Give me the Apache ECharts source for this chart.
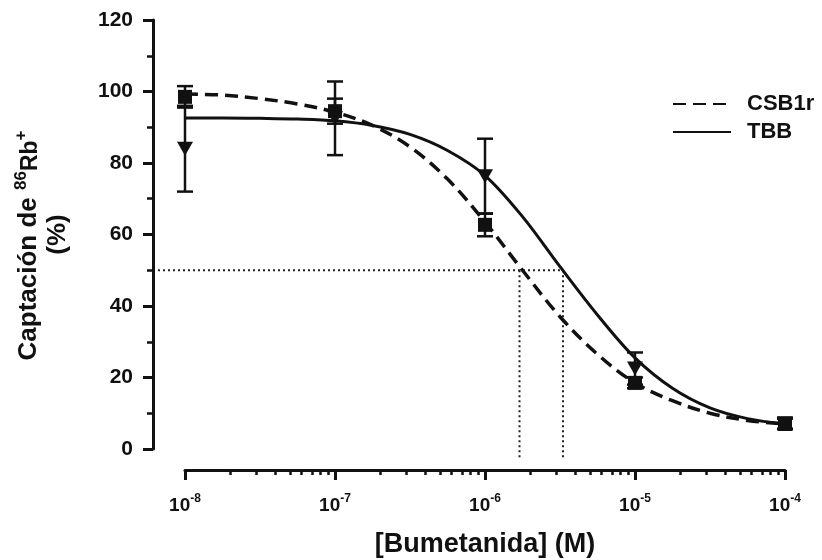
<!DOCTYPE html>
<html>
<head>
<meta charset="utf-8">
<script src="https://cdn.jsdelivr.net/npm/echarts@6/dist/echarts.min.js"></script>
<style>
  html, body { margin: 0; padding: 0; background: #ffffff; }
  #chart { width: 822px; height: 560px; }
</style>
</head>
<body>
<div id="chart"></div>
<script>
// Bumetanide concentrations, as log10 of molar concentration
const doseExp = [-8, -7, -6, -5, -4];

// 86Rb+ uptake (% of control), mean and error
const csbMean = [98.5, 94.5, 62.7, 18.5, 7.0];
const csbErr  = [3.0, 3.5, 3.2, 1.5, 1.5];
const tbbMean = [84.0, 92.5, 76.3, 22.5, 7.2];
const tbbErr  = [12.0, 10.3, 10.5, 4.5, 1.5];

// Fitted dose-response curves, sampled every quarter decade
const curveExp = [-8, -7.75, -7.5, -7.25, -7, -6.75, -6.5, -6.25, -6, -5.75, -5.5, -5.25, -5, -4.75, -4.5, -4.25, -4];
const csbFit = [99.3, 99.0, 98.0, 96.5, 94.2, 90.5, 84.5, 75.5, 63.5, 50.0, 37.0, 26.5, 18.5, 13.5, 10.0, 8.0, 7.0];
const tbbFit = [92.6, 92.6, 92.5, 92.3, 91.8, 90.5, 88.0, 83.5, 76.5, 65.0, 51.0, 37.5, 25.5, 17.0, 11.5, 8.5, 7.0];

// IC50 guide lines (log10 M) at 50 % uptake
const csbLogIC50 = -5.77;
const tbbLogIC50 = -5.48;
const halfLevel = 50;
const guideFloor = -3;

// Axis ticks
const xMajorExp = [-8, -7, -6, -5, -4];
const yTickStep = 20;

const INK = '#111111';
const FONT = '"Liberation Sans", Arial, Helvetica, sans-serif';

// Minor ticks at 2..9 x each decade
const xMinorExp = [];
for (let d = -8; d < -4; d++) {
  for (let k = 2; k <= 9; k++) xMinorExp.push(d + Math.log10(k));
}

const pairs = (xs, ys) => xs.map((x, i) => [x, ys[i]]);
const errData = (ys, es) => doseExp.map((x, i) => [x, ys[i], es[i]]);

function renderErrorBar(params, api) {
  const x = api.value(0), y = api.value(1), e = api.value(2);
  const top = api.coord([x, y + e]);
  const bot = api.coord([x, y - e]);
  const cap = 8;
  const style = { stroke: INK, lineWidth: 2.5 };
  return {
    type: 'group',
    children: [
      { type: 'line', shape: { x1: top[0], y1: top[1], x2: bot[0], y2: bot[1] }, style },
      { type: 'line', shape: { x1: top[0] - cap, y1: top[1], x2: top[0] + cap, y2: top[1] }, style },
      { type: 'line', shape: { x1: bot[0] - cap, y1: bot[1], x2: bot[0] + cap, y2: bot[1] }, style }
    ]
  };
}

const Y_AXIS_OFFSET = 32;
const X_AXIS_OFFSET = 21;

function renderGuides(params, api) {
  const style = { stroke: '#222', lineWidth: 2, lineDash: [2, 3] };
  const a = api.coord([csbLogIC50, halfLevel]);
  const b = api.coord([tbbLogIC50, halfLevel]);
  const aLow = api.coord([csbLogIC50, guideFloor]);
  const bLow = api.coord([tbbLogIC50, guideFloor]);
  const left = params.coordSys.x - Y_AXIS_OFFSET + 5;
  return {
    type: 'group',
    children: [
      { type: 'line', shape: { x1: left, y1: b[1], x2: b[0], y2: b[1] }, style },
      { type: 'line', shape: { x1: a[0], y1: a[1], x2: aLow[0], y2: aLow[1] }, style },
      { type: 'line', shape: { x1: b[0], y1: b[1], x2: bLow[0], y2: bLow[1] }, style }
    ]
  };
}

const chart = echarts.init(document.getElementById('chart'), null, { renderer: 'canvas' });

chart.setOption({
  backgroundColor: '#ffffff',
  animation: false,
  textStyle: { fontFamily: FONT, color: INK },
  grid: { left: 185, right: 37, top: 20, bottom: 111, containLabel: false, outerBoundsMode: 'none' },
  legend: {
    orient: 'vertical',
    left: 667,
    top: 88,
    itemWidth: 58,
    itemHeight: 14,
    itemGap: 6,
    data: ['CSB1r', 'TBB'],
    itemStyle: { opacity: 0 },
    textStyle: { fontFamily: FONT, fontWeight: 'bold', fontSize: 22, color: INK, padding: [0, 0, 0, 11] }
  },
  xAxis: [
    {
      type: 'value',
      min: -8,
      max: -4,
      interval: 1,
      position: 'bottom',
      offset: X_AXIS_OFFSET,
      axisLine: { show: true, onZero: false, lineStyle: { color: INK, width: 3 } },
      axisTick: { show: true, inside: false, length: 10, lineStyle: { color: INK, width: 3 } },
      splitLine: { show: false },
      axisLabel: {
        margin: 23,
        formatter: v => '{b|10}{s|' + String(v).replace('−', '-') + '}',
        rich: {
          b: { fontFamily: FONT, fontWeight: 'bold', fontSize: 19, color: INK, verticalAlign: 'bottom', lineHeight: 22 },
          s: { fontFamily: FONT, fontWeight: 'bold', fontSize: 12, color: INK, verticalAlign: 'top', lineHeight: 22 }
        }
      },
      name: '[Bumetanida] (M)',
      nameLocation: 'middle',
      nameGap: 61,
      nameTextStyle: { fontFamily: FONT, fontWeight: 'bold', fontSize: 27, color: INK }
    },
    {
      type: 'value',
      min: -8,
      max: -4,
      position: 'bottom',
      offset: X_AXIS_OFFSET,
      axisLine: { show: false, onZero: false },
      axisTick: { show: true, inside: false, length: 5, customValues: xMinorExp, lineStyle: { color: INK, width: 2.5 } },
      axisLabel: { show: false },
      splitLine: { show: false }
    }
  ],
  yAxis: {
    type: 'value',
    min: 0,
    max: 120,
    interval: yTickStep,
    offset: Y_AXIS_OFFSET,
    axisLine: { show: true, onZero: false, lineStyle: { color: INK, width: 3 } },
    axisTick: { show: true, inside: false, length: 10, lineStyle: { color: INK, width: 3 } },
    minorTick: { show: true, splitNumber: 2, length: 6, lineStyle: { color: INK, width: 2.5 } },
    splitLine: { show: false },
    minorSplitLine: { show: false },
    axisLabel: { margin: 20, fontFamily: FONT, fontWeight: 'bold', fontSize: 21, color: INK },
    name: '{t|Captación de }{sup|86}{rb|Rb}{supEnd|+}\n{t|(%)}',
    nameLocation: 'middle',
    nameGap: 82,
    nameTextStyle: {
      align: 'center',
      padding: [0, 0, 0, 0],
      rich: {
        t: { fontFamily: FONT, fontWeight: 'bold', fontSize: 26, color: INK, lineHeight: 29, verticalAlign: 'bottom' },
        sup: { fontFamily: FONT, fontWeight: 'bold', fontSize: 17, color: INK, lineHeight: 29, verticalAlign: 'top' },
        supEnd: { fontFamily: FONT, fontWeight: 'bold', fontSize: 17, color: INK, lineHeight: 29, verticalAlign: 'top', padding: [0, 22, 0, 0] },
        rb: { fontFamily: FONT, fontWeight: 'bold', fontSize: 23, color: INK, lineHeight: 29, verticalAlign: 'bottom' }
      }
    }
  },
  series: [
    {
      name: 'guides',
      type: 'custom',
      clip: false,
      renderItem: renderGuides,
      data: [[csbLogIC50, halfLevel]],
      silent: true,
      z: 1
    },
    {
      name: 'CSB1r',
      type: 'line',
      data: pairs(curveExp, csbFit),
      smooth: 0.35,
      symbol: 'none',
      lineStyle: { color: INK, width: 3.5, type: [13, 7] },
      itemStyle: { color: INK },
      z: 2
    },
    {
      name: 'TBB',
      type: 'line',
      data: pairs(curveExp, tbbFit),
      smooth: 0.35,
      symbol: 'none',
      lineStyle: { color: INK, width: 3 },
      itemStyle: { color: INK },
      z: 2
    },
    {
      name: 'CSB1r error',
      type: 'custom',
      clip: false,
      renderItem: renderErrorBar,
      data: errData(csbMean, csbErr),
      z: 3
    },
    {
      name: 'TBB error',
      type: 'custom',
      clip: false,
      renderItem: renderErrorBar,
      data: errData(tbbMean, tbbErr),
      z: 3
    },
    {
      name: 'CSB1r points',
      type: 'scatter',
      data: pairs(doseExp, csbMean),
      symbol: 'rect',
      symbolSize: 14,
      itemStyle: { color: INK, opacity: 1 },
      z: 4
    },
    {
      name: 'TBB points',
      type: 'scatter',
      data: pairs(doseExp, tbbMean),
      symbol: 'triangle',
      symbolRotate: 180,
      symbolSize: [16, 14],
      itemStyle: { color: INK, opacity: 1 },
      z: 4
    }
  ]
});
</script>
</body>
</html>
